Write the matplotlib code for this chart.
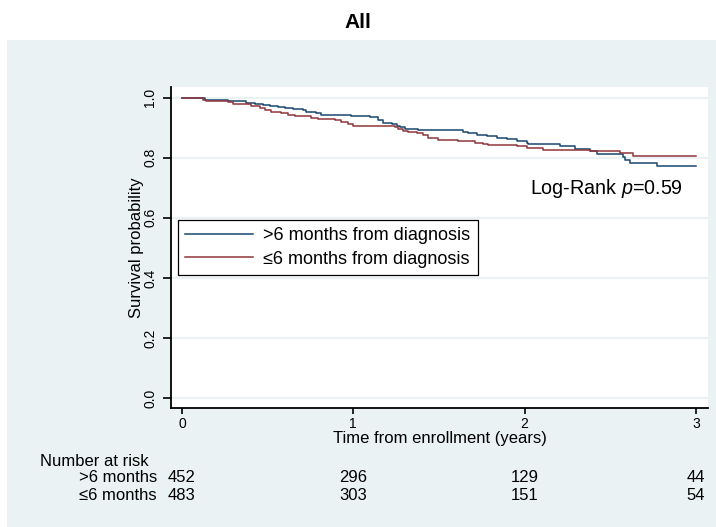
import matplotlib
matplotlib.use("Agg")
import matplotlib.pyplot as plt
from matplotlib.patches import Rectangle

plt.rcParams['font.family'] = ['Liberation Sans', 'DejaVu Sans']
plt.rcParams['mathtext.fontset'] = 'custom'
plt.rcParams['mathtext.rm'] = 'Liberation Sans'
plt.rcParams['mathtext.it'] = 'Liberation Sans:italic'

# ---- data ----
title = "All"
group_labels = [">6 months from diagnosis", "\u22646 months from diagnosis"]
risk_labels = [">6 months", "\u22646 months"]
risk_times = [0, 1, 2, 3]
risk_gt6 = [452, 296, 129, 44]
risk_le6 = [483, 303, 151, 54]

gt6_t = [0, 0.113, 0.132, 0.171, 0.269, 0.376, 0.424, 0.473, 0.512, 0.560,
         0.599, 0.648, 0.706, 0.726, 0.784, 0.813, 0.891, 0.988, 1.097, 1.146,
         1.175, 1.224, 1.253, 1.273, 1.302, 1.341, 1.380, 1.643, 1.671, 1.720,
         1.779, 1.837, 1.895, 1.954, 2.012, 2.022, 2.207, 2.294, 2.382, 2.421,
         2.557, 2.576, 2.586, 2.615, 2.771, 3.0]
gt6_s = [1.0, 0.997, 0.993, 0.991, 0.988, 0.982, 0.979, 0.974, 0.971, 0.969,
         0.965, 0.963, 0.958, 0.952, 0.949, 0.943, 0.941, 0.938, 0.934, 0.925,
         0.917, 0.912, 0.906, 0.901, 0.897, 0.894, 0.892, 0.886, 0.881, 0.875,
         0.871, 0.867, 0.861, 0.856, 0.850, 0.845, 0.839, 0.830, 0.822, 0.813,
         0.811, 0.802, 0.793, 0.782, 0.771, 0.771]

le6_t = [0, 0.035, 0.123, 0.142, 0.269, 0.298, 0.337, 0.405, 0.454, 0.483,
         0.521, 0.580, 0.619, 0.658, 0.755, 0.794, 0.891, 0.930, 0.969, 0.998,
         1.243, 1.263, 1.292, 1.321, 1.370, 1.409, 1.438, 1.496, 1.613, 1.710,
         1.759, 1.788, 1.954, 2.012, 2.109, 2.119, 2.382, 2.557, 2.635, 3.0]
le6_s = [1.0, 0.997, 0.993, 0.990, 0.986, 0.980, 0.977, 0.971, 0.965, 0.958,
         0.952, 0.949, 0.943, 0.938, 0.932, 0.929, 0.924, 0.918, 0.913, 0.906,
         0.901, 0.895, 0.889, 0.884, 0.881, 0.875, 0.864, 0.860, 0.856, 0.850,
         0.847, 0.842, 0.838, 0.832, 0.827, 0.824, 0.821, 0.815, 0.805, 0.805]

yticks = [0.0, 0.2, 0.4, 0.6, 0.8, 1.0]
ytick_labels = ["0.0", "0.2", "0.4", "0.6", "0.8", "1.0"]
xticks = [0, 1, 2, 3]

# ---- layout ----
W, H = 716, 527
fig = plt.figure(figsize=(W / 100, H / 100), dpi=100, facecolor="white")

def fx(x):
    return x / W

def fy(y):
    return 1 - y / H

bg = "#eaf2f3"
fig.patches.append(Rectangle((fx(7), 0), 1 - fx(7), fy(40), transform=fig.transFigure,
                             facecolor=bg, edgecolor="none", zorder=-10))

ax = fig.add_axes([fx(171), fy(408.3), fx(708) - fx(171), fy(86.7) - fy(408.3)])
ax.set_facecolor("white")
ax.set_xlim(-0.064, 3.071)
ax.set_ylim(-0.033, 1.036)

for sp in ["top", "right"]:
    ax.spines[sp].set_visible(False)
for sp in ["left", "bottom"]:
    ax.spines[sp].set_linewidth(1.3)
    ax.spines[sp].set_color("black")

ax.set_yticks(yticks)
ax.set_yticklabels(ytick_labels, rotation=90, va="center")
ax.set_xticks(xticks)
ax.tick_params(axis="y", length=6, width=1.2, pad=4, labelsize=10)
ax.tick_params(axis="x", length=4.5, width=1.2, pad=2, labelsize=10)
ax.yaxis.grid(True, color=bg, linewidth=1.5)
ax.set_axisbelow(True)

blue = "#1a476f"
red = "#90353b"
ax.step(gt6_t, gt6_s, where="post", color=blue, linewidth=1.1, label=group_labels[0])
ax.step(le6_t, le6_s, where="post", color=red, linewidth=1.1, label=group_labels[1])

leg = ax.legend(loc="upper left", bbox_to_anchor=((178 - 171) / 537, (408.3 - 220) / 321.6),
                borderaxespad=0, fontsize=13, handlelength=3.77, handletextpad=0.55,
                borderpad=0.4, labelspacing=0.35, fancybox=False, framealpha=1,
                edgecolor="black")
leg.get_frame().set_linewidth(0.9)

fig.text(fx(530), fy(188), r"Log-Rank $\it{p}$=0.59", fontsize=14.2, va="center", ha="left")

ax.set_ylabel("Survival probability", fontsize=12, labelpad=-1)
ax.set_xlabel("Time from enrollment (years)", fontsize=12, labelpad=0)

fig.text(fx(358), fy(22), title, fontsize=15, fontweight="bold", ha="center", va="center")

# risk table
fig.text(fx(40), fy(461), "Number at risk", fontsize=12, ha="left", va="center")
rows = [(risk_labels[0], risk_gt6, 478), (risk_labels[1], risk_le6, 495)]
for lab, vals, ypix in rows:
    fig.text(fx(157), fy(ypix), lab, fontsize=12, ha="right", va="center")
    for t, v in zip(risk_times, vals):
        xd = ax.transData.transform((t, 0))[0]
        fig.text(xd / W, fy(ypix), str(v), fontsize=12, ha="center", va="center")

fig.savefig("out.png", dpi=100, facecolor="white")
